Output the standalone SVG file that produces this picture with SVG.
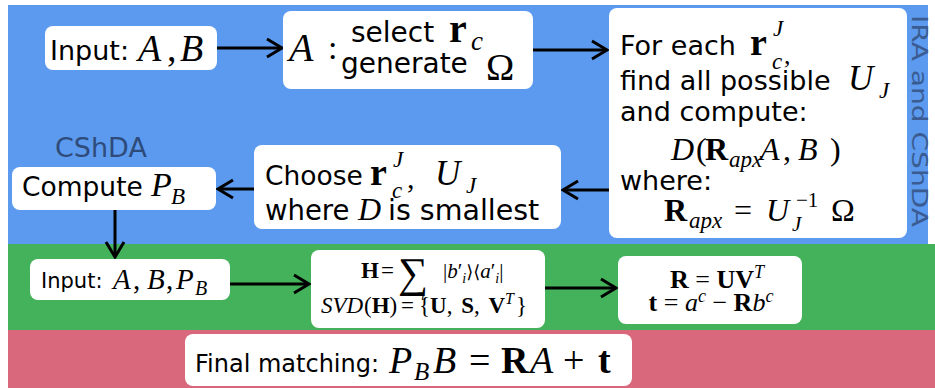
<svg xmlns="http://www.w3.org/2000/svg" width="935" height="388" viewBox="0 0 935 388">
<defs>
<style>
.box{fill:#fff;}
.s{font-family:"DejaVu Sans",sans-serif;fill:#000;}
.mi{font-family:"Liberation Serif",serif;font-style:italic;fill:#000;}
.mr{font-family:"Liberation Serif",serif;fill:#000;}
.mb{font-family:"Liberation Serif",serif;font-weight:bold;fill:#000;}
.conn{stroke:#000;stroke-width:3;fill:none;}
</style>
<marker id="ah" markerUnits="userSpaceOnUse" markerWidth="24" markerHeight="24" refX="18" refY="10" orient="auto" overflow="visible">
<path d="M3,1 L18,10 L3,19" fill="none" stroke="#000" stroke-width="3"/>
</marker>
</defs>
<g id="bands">
<rect x="8" y="5" width="920" height="239" fill="#5c9aef"/>
<rect x="8" y="244" width="927" height="86" fill="#43b25b"/>
<rect x="8" y="330" width="927" height="58" fill="#da687d"/>
<text class="s" x="55" y="157" font-size="27" style="fill:#2e4b7a">CShDA</text>
<text class="s" transform="translate(912,15) rotate(90)" font-size="21" textLength="212" lengthAdjust="spacingAndGlyphs" style="fill:#3a5c92">IRA and CShDA</text>
</g>
<g id="connectors">
<path class="conn" d="M217,48 H282" marker-end="url(#ah)"/>
<path class="conn" d="M533,50 H607" marker-end="url(#ah)"/>
<path class="conn" d="M609,190 H563" marker-end="url(#ah)"/>
<path class="conn" d="M254,189 H218" marker-end="url(#ah)"/>
<path class="conn" d="M115,210 V257" marker-end="url(#ah)"/>
<path class="conn" d="M230,284 H309" marker-end="url(#ah)"/>
<path class="conn" d="M545,288 H616" marker-end="url(#ah)"/>
</g>
<g id="input1">
<rect class="box" x="45" y="26" width="172" height="44" rx="8"/>
<text class="s" x="50" y="60" font-size="27">Input:</text>
<text class="mi" x="138" y="61" font-size="38">A</text>
<text class="mr" x="167" y="61" font-size="38">,</text>
<text class="mi" x="180" y="61" font-size="38">B</text>
</g>
<g id="select">
<rect class="box" x="283" y="11" width="250" height="78" rx="8"/>
<text class="mi" x="289" y="61" font-size="40">A</text>
<text class="mr" x="328" y="59" font-size="34">:</text>
<text class="s" x="351" y="42" font-size="28">select</text>
<text class="mb" x="449" y="42" font-size="40">r</text>
<text class="mi" x="471" y="50" font-size="27">c</text>
<text class="s" x="341" y="73" font-size="28">generate</text>
<text class="mr" x="486" y="80" font-size="38">Ω</text>
</g>
<g id="foreach">
<rect class="box" x="609" y="8" width="298" height="230" rx="8"/>
<text class="s" x="620" y="55" font-size="27">For each</text>
<text class="mb" x="750" y="55" font-size="38">r</text>
<text class="mi" x="773" y="36" font-size="23">J</text>
<text class="mi" x="772" y="69" font-size="23">c</text>
<text class="mr" x="784" y="64" font-size="26">,</text>
<text class="s" x="620" y="90" font-size="27">find all possible</text>
<text class="mi" x="848" y="90" font-size="35">U</text>
<text class="mi" x="879" y="98" font-size="23">J</text>
<text class="s" x="620" y="121" font-size="27">and compute:</text>
<text class="mi" x="671" y="160" font-size="32">D</text>
<text class="mr" x="696" y="160" font-size="32">(</text>
<text class="mb" x="705" y="160" font-size="32">R</text>
<text class="mi" x="729" y="167" font-size="23">apx</text>
<text class="mi" x="760" y="160" font-size="32">A</text>
<text class="mr" x="783" y="160" font-size="32">,</text>
<text class="mi" x="798" y="160" font-size="32">B</text>
<text class="mr" x="830" y="160" font-size="32">)</text>
<text class="s" x="620" y="190" font-size="27">where:</text>
<text class="mb" x="664" y="221" font-size="32">R</text>
<text class="mi" x="689" y="228" font-size="23">apx</text>
<text class="mr" x="734" y="221" font-size="32">=</text>
<text class="mi" x="766" y="221" font-size="32">U</text>
<text class="mi" x="792" y="231" font-size="21">J</text>
<text class="mr" x="796" y="207" font-size="21">−1</text>
<text class="mr" x="831" y="221" font-size="32">Ω</text>
</g>
<g id="choose">
<rect class="box" x="254" y="145" width="307" height="84" rx="8"/>
<text class="s" x="265" y="185" font-size="26.5">Choose</text>
<text class="mb" x="370" y="185" font-size="38">r</text>
<text class="mi" x="393" y="167" font-size="23">J</text>
<text class="mi" x="392" y="198" font-size="23">c</text>
<text class="mr" x="407" y="188" font-size="30">,</text>
<text class="mi" x="435" y="185" font-size="35">U</text>
<text class="mi" x="466" y="193" font-size="23">J</text>
<text class="s" x="265" y="220" font-size="27.5">where</text>
<text class="mi" x="358" y="220" font-size="32">D</text>
<text class="s" x="388" y="220" font-size="28.5">is smallest</text>
</g>
<g id="computepb">
<rect class="box" x="12" y="167" width="204" height="43" rx="8"/>
<text class="s" x="22" y="196" font-size="26.5">Compute</text>
<text class="mi" x="151" y="196" font-size="34">P</text>
<text class="mi" x="171" y="204" font-size="23">B</text>
</g>
<g id="input2">
<rect class="box" x="30" y="259" width="200" height="41" rx="8"/>
<text class="s" x="41" y="288" font-size="21">Input:</text>
<text class="mi" x="113" y="289" font-size="29">A</text>
<text class="mr" x="133" y="289" font-size="29">,</text>
<text class="mi" x="147" y="289" font-size="29">B</text>
<text class="mr" x="166" y="289" font-size="29">,</text>
<text class="mi" x="176" y="289" font-size="29">P</text>
<text class="mi" x="195" y="295" font-size="20">B</text>
</g>
<g id="svd">
<rect class="box" x="311" y="250" width="234" height="78" rx="8"/>
<text class="mb" x="361" y="278" font-size="23">H</text>
<text class="mr" x="381" y="278" font-size="23">=</text>
<text class="mr" x="398" y="287" font-size="42">∑</text>
<text class="mi" x="421" y="300" font-size="14">i</text>
<text class="mr" x="443" y="278" font-size="21">|<tspan class="mi">b</tspan>′<tspan font-size="14" dy="5" class="mi">i</tspan><tspan dy="-5" font-family="DejaVu Serif" font-size="18">⟩⟨</tspan><tspan class="mi">a</tspan>′<tspan font-size="14" dy="5" class="mi">i</tspan><tspan dy="-5">|</tspan></text>
<text class="mi" x="321" y="313" font-size="23">SVD</text>
<text class="mr" x="364" y="313" font-size="23">(<tspan class="mb">H</tspan>)</text>
<text class="mr" x="401" y="313" font-size="23">=</text>
<text class="mr" x="419" y="313" font-size="23" word-spacing="3">{<tspan class="mb">U</tspan>, <tspan class="mb">S</tspan>, <tspan class="mb">V</tspan><tspan class="mi" font-size="16" dy="-9">T</tspan><tspan dy="9" dx="2">}</tspan></text>
</g>
<g id="rt">
<rect class="box" x="618" y="256" width="184" height="68" rx="8"/>
<text class="mr" x="717" y="288" font-size="26" text-anchor="middle"><tspan class="mb">R</tspan> = <tspan class="mb">UV</tspan><tspan class="mi" font-size="18" dy="-10">T</tspan></text>
<text class="mr" x="711" y="311" font-size="26" text-anchor="middle"><tspan class="mb">t</tspan> = <tspan class="mi">a</tspan><tspan class="mi" font-size="18" dy="-9">c</tspan><tspan dy="9"> − </tspan><tspan class="mb">R</tspan><tspan class="mi">b</tspan><tspan class="mi" font-size="18" dy="-9">c</tspan></text>
</g>
<g id="final">
<rect class="box" x="185" y="334" width="447" height="52" rx="8"/>
<text class="s" x="195" y="372" font-size="24">Final matching:</text>
<text class="mi" x="389" y="373" font-size="38">P</text>
<text class="mi" x="414" y="380" font-size="25">B</text>
<text class="mi" x="433" y="373" font-size="38">B</text>
<text class="mr" x="469" y="373" font-size="38">=</text>
<text class="mb" x="501" y="373" font-size="38">R</text>
<text class="mi" x="530" y="373" font-size="38">A</text>
<text class="mr" x="563" y="373" font-size="38">+</text>
<text class="mb" x="598" y="373" font-size="38">t</text>
</g>
</svg>
